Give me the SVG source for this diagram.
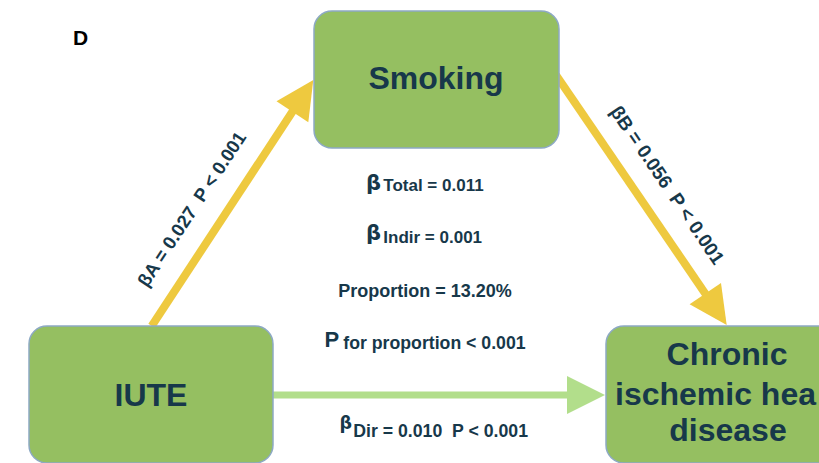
<svg xmlns="http://www.w3.org/2000/svg" width="819" height="463" viewBox="0 0 819 463">
<style>
  text { font-family: "Liberation Sans", Arial, sans-serif; font-weight: bold; fill: #17384A; }
  .node rect { fill: #95BF61; stroke: #8DA9C4; stroke-width: 1.5; }
  .ntext { font-size: 32px; text-anchor: middle; }
  .yline { stroke: #EEC93F; stroke-width: 8; fill: none; }
  .yhead { fill: #EEC93F; }
  .gline { stroke: #B2DE8B; stroke-width: 7; fill: none; }
  .ghead { fill: #B2DE8B; }
  .lbl { font-size: 17px; }
  .lbl2 { font-size: 17.7px; }
  .beta { font-family: "DejaVu Sans", sans-serif; font-size: 21px; }
</style>
<rect width="819" height="463" fill="#FFFFFF"/>
<text x="73" y="45" style="font-size:21px;fill:#000000">D</text>

<g id="connectors">
  <g id="edge-iute-smoking">
    <line class="yline" x1="151.7" y1="326" x2="296.8" y2="105"/>
    <polygon class="yhead" points="313.3,80 308.3,122.2 276.5,101.2"/>
  </g>
  <g id="edge-smoking-chd">
    <line class="yline" x1="556" y1="75" x2="709.8" y2="300.2"/>
    <polygon class="yhead" points="726.7,325 689.6,304.3 721.0,282.9"/>
  </g>
  <g id="edge-iute-chd">
    <line class="gline" x1="273" y1="395" x2="575" y2="395"/>
    <polygon class="ghead" points="605,395 567,376 567,414"/>
  </g>
</g>

<g id="node-smoking" class="node">
  <rect x="314" y="11" width="245" height="137" rx="18"/>
  <text class="ntext" x="436" y="89">Smoking</text>
</g>
<g id="node-iute" class="node">
  <rect x="29" y="326" width="244" height="137" rx="18"/>
  <text class="ntext" x="151" y="406">IUTE</text>
</g>
<g id="node-chd" class="node">
  <rect x="606" y="326" width="245" height="137" rx="18"/>
  <text class="ntext" x="727" y="365">Chronic</text>
  <text class="ntext" x="615" y="405" style="text-anchor:start">ischemic hea</text>
  <text class="ntext" x="728" y="441">disease</text>
</g>

<g id="labels">
  <text xml:space="preserve" text-anchor="middle" style="font-size:18.5px" transform="translate(197.1,212.6) rotate(-56.6)">βA = 0.027  P &lt; 0.001</text>
  <text xml:space="preserve" text-anchor="middle" style="font-size:19px" transform="translate(662,188.7) rotate(55.8)">βB = 0.056  P &lt; 0.001</text>

  <text><tspan x="366" y="190" class="beta">β</tspan><tspan x="383.3" y="190.7" class="lbl">Total = 0.011</tspan></text>
  <text><tspan x="366" y="240" class="beta">β</tspan><tspan x="383.3" y="242.7" class="lbl">Indir = 0.001</tspan></text>
  <text x="338.3" y="296.7" style="font-size:18px">Proportion = 13.20%</text>
  <text><tspan x="324.5" y="346.7" style="font-size:22px">P</tspan><tspan x="343.3" y="349.3" class="lbl2">for proportion &lt; 0.001</tspan></text>
  <text xml:space="preserve"><tspan x="339.5" y="429.3" class="beta" style="font-size:17.5px">β</tspan><tspan x="353.3" y="436.7" class="lbl2">Dir = 0.010  P &lt; 0.001</tspan></text>
</g>
</svg>
